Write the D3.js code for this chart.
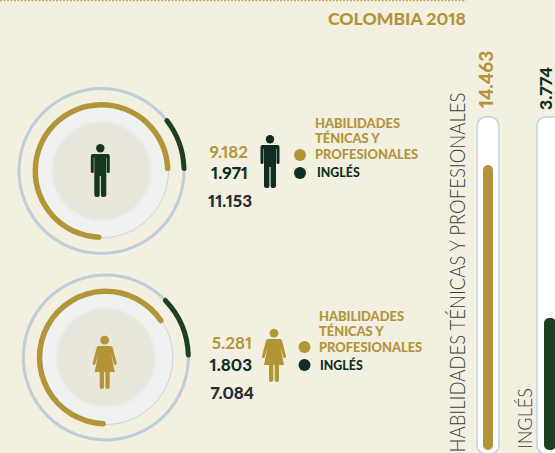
<!DOCTYPE html>
<html>
<head>
<meta charset="utf-8">
<script src="https://cdn.jsdelivr.net/npm/d3@7"></script>
<style>
html, body { margin: 0; padding: 0; background: #f3efe1; overflow: hidden; }
svg { display: block; }
text { font-family: Lato, sans-serif; font-variant-numeric: proportional-nums; }
</style>
</head>
<body>
<svg width="555" height="453"></svg>
<script>
const title = 'COLOMBIA 2018';
const groups = ['hombres', 'mujeres'];
const habilidades = [9182, 5281];
const ingles = [1971, 1803];
const totales = [11153, 7084];
// valor que daria la vuelta completa en cada anillo
const habilidadesFull = [12243, 7972];
const inglesFull = [18010, 14265];

const barLabels = ['HABILIDADES TÉNICAS Y PROFESIONALES', 'INGLÉS'];
const barValues = [14463, 3774];
const barFull = [16746, 9435];
const legendLines = ['HABILIDADES', 'TÉNICAS Y', 'PROFESIONALES'];

const GOLD = '#b39539', GREEN = '#1b4120', DARK = '#0e2f22', RING = '#bfcdd6';
const fmt = v => d3.format(',')(v).replace(/,/g, '.');

const svg = d3.select('svg');

svg.append('line')
    .attr('x1', 0).attr('x2', 466).attr('y1', 0.5).attr('y2', 0.5)
    .attr('stroke', GOLD).attr('stroke-width', 1.5).attr('stroke-dasharray', '2 1.5').attr('opacity', 0.75);

svg.append('text').attr('x', 328).attr('y', 25)
    .attr('font-size', 17.6).attr('font-weight', 900).attr('fill', GOLD).text(title);

const defs = svg.append('defs');
const blur = defs.append('filter').attr('id', 'soft').attr('x', '-20%').attr('y', '-20%').attr('width', '140%').attr('height', '140%');
blur.append('feGaussianBlur').attr('stdDeviation', 2);

// sitio de cada fila
const layout = [
    {cx: 101.5, cy: 171, numX: [248, 248, 252], numY: [158, 179, 207], iconX: 270, iconY: 135, iconCx: 100.3, iconCy: 144, dotX: 300, dotY: [155, 173], txtX: 315, txtY: [127.5, 143, 159], engX: 317, engY: 177},
    {cx: 105.8, cy: 357.5, numX: [252, 252, 254], numY: [349, 371, 399], iconX: 274, iconY: 329, iconCx: 104.7, iconCy: 336, dotX: 304.5, dotY: [347, 365], txtX: 319, txtY: [320.5, 336, 352], engX: 320, engY: 370}
];

function man(g, color) {
    g.append('circle').attr('cx', 0).attr('cy', 4.2).attr('r', 4.2).attr('fill', color);
    g.append('path').attr('fill', color)
        .attr('d', 'M-7.5 10 H7.5 Q9.5 10 9.5 12 V27.5 Q9.5 29 8 29 Q6.5 29 6.5 27.5 V14 H6 V51 Q6 53 3.5 53 Q0.6 53 0.6 51 V32 H-0.6 V51 Q-0.6 53 -3.5 53 Q-6 53 -6 51 V14 H-6.5 V27.5 Q-6.5 29 -8 29 Q-9.5 29 -9.5 27.5 V12 Q-9.5 10 -7.5 10 Z');
}

function woman(g, color) {
    g.append('circle').attr('cx', 0).attr('cy', 4.2).attr('r', 4.4).attr('fill', color);
    g.append('path').attr('fill', color)
        .attr('d', 'M-6 10 H6 Q7.5 10 8 11.5 L12 27 Q12.3 28.5 11 29 Q9.8 29.3 9.3 28 L6.5 18 L10 36 H5 V51 Q5 53 3 53 Q0.7 53 0.7 51 V36 H-0.7 V51 Q-0.7 53 -3 53 Q-5 53 -5 51 V36 H-10 L-6.5 18 L-9.3 28 Q-9.8 29.3 -11 29 Q-12.3 28.5 -12 27 L-8 11.5 Q-7.5 10 -6 10 Z');
}

groups.forEach((name, i) => {
    const p = layout[i];
    const g = svg.append('g').attr('transform', `translate(${p.cx},${p.cy})`);

    g.append('circle').attr('r', 82.5).attr('fill', 'none').attr('stroke', RING).attr('stroke-width', 3);
    g.append('circle').attr('r', 67).attr('fill', '#f0f2f0').attr('stroke', RING).attr('stroke-width', 0.8);
    g.append('circle').attr('r', 48).attr('fill', '#dfe0d8').attr('filter', 'url(#soft)');
    g.append('circle').attr('r', 47.5).attr('fill', '#e9e7db');

    // oro arranca a las 6 y va con el reloj, verde arranca a las 3 y va contra el reloj
    const goldAngle = d3.scaleLinear().domain([0, habilidadesFull[i]]).range([Math.PI, 3 * Math.PI]);
    const greenAngle = d3.scaleLinear().domain([0, inglesFull[i]]).range([Math.PI / 2, Math.PI / 2 - 2 * Math.PI]);

    g.append('path').attr('fill', GOLD)
        .attr('d', d3.arc().innerRadius(63.5).outerRadius(69).cornerRadius(2.7)
            .startAngle(goldAngle(0)).endAngle(goldAngle(habilidades[i]))());
    g.append('path').attr('fill', GREEN)
        .attr('d', d3.arc().innerRadius(80).outerRadius(85).cornerRadius(2.5)
            .startAngle(greenAngle(ingles[i])).endAngle(greenAngle(0))());

    const draw = i === 0 ? man : woman;
    draw(svg.append('g').attr('transform', `translate(${p.iconCx},${p.iconCy})`), i === 0 ? '#17361f' : GOLD);
    draw(svg.append('g').attr('transform', `translate(${p.iconX},${p.iconY})`), i === 0 ? '#0f2c22' : GOLD);

    [[habilidades, GOLD, 700], [ingles, DARK, 900], [totales, '#2a2a2a', 900]].forEach(([arr, color, weight], k) => {
        svg.append('text').attr('x', p.numX[k]).attr('y', p.numY[k]).attr('text-anchor', 'end')
            .attr('font-size', 17).attr('font-weight', weight).attr('fill', color).text(fmt(arr[i]));
    });

    svg.append('circle').attr('cx', p.dotX).attr('cy', p.dotY[0]).attr('r', 6).attr('fill', GOLD);
    svg.append('circle').attr('cx', p.dotX).attr('cy', p.dotY[1]).attr('r', 6).attr('fill', DARK);

    legendLines.forEach((t, k) => {
        svg.append('text').attr('x', p.txtX).attr('y', p.txtY[k])
            .attr('font-size', 12.9).attr('font-weight', 900).attr('fill', GOLD).text(t);
    });
    svg.append('text').attr('x', p.engX).attr('y', p.engY)
        .attr('font-size', 12.4).attr('font-weight', 900).attr('fill', DARK).text(barLabels[1]);
});

// barras verticales
const trackTop = 117, trackBottom = 454, barBase = 450;
const barLayout = [
    {trackX: 477, trackW: 22, barX: 483, barW: 10, labelX: 465, labelY: 452.5, labelSize: 21.5, labelLen: 360, valueX: 492.5, valueY: 108, valueSize: 19, color: GOLD},
    {trackX: 537, trackW: 30, barX: 544, barW: 12, labelX: 532, labelY: 449, labelSize: 19.5, labelLen: 61, valueX: 551.5, valueY: 110, valueSize: 17.5, color: GREEN}
];

barValues.forEach((v, i) => {
    const b = barLayout[i];
    const y = d3.scaleLinear().domain([0, barFull[i]]).range([barBase, 120]);

    svg.append('rect').attr('x', b.trackX).attr('y', trackTop).attr('width', b.trackW).attr('height', trackBottom - trackTop)
        .attr('rx', 9).attr('fill', '#fff').attr('stroke', '#c6d2dc').attr('stroke-width', 1.5);
    svg.append('rect').attr('x', b.barX).attr('y', y(v)).attr('width', b.barW).attr('height', y(0) - y(v))
        .attr('rx', 5).attr('fill', b.color);

    svg.append('text').attr('transform', `translate(${b.labelX},${b.labelY}) rotate(-90)`)
        .attr('font-size', b.labelSize).attr('font-weight', 300).attr('fill', '#3c3c3a')
        .attr('textLength', b.labelLen).attr('lengthAdjust', 'spacingAndGlyphs').text(barLabels[i]);
    svg.append('text').attr('transform', `translate(${b.valueX},${b.valueY}) rotate(-90)`)
        .attr('font-size', b.valueSize).attr('font-weight', 900).attr('fill', i === 0 ? GOLD : DARK).text(fmt(v));
});
</script>
</body>
</html>
